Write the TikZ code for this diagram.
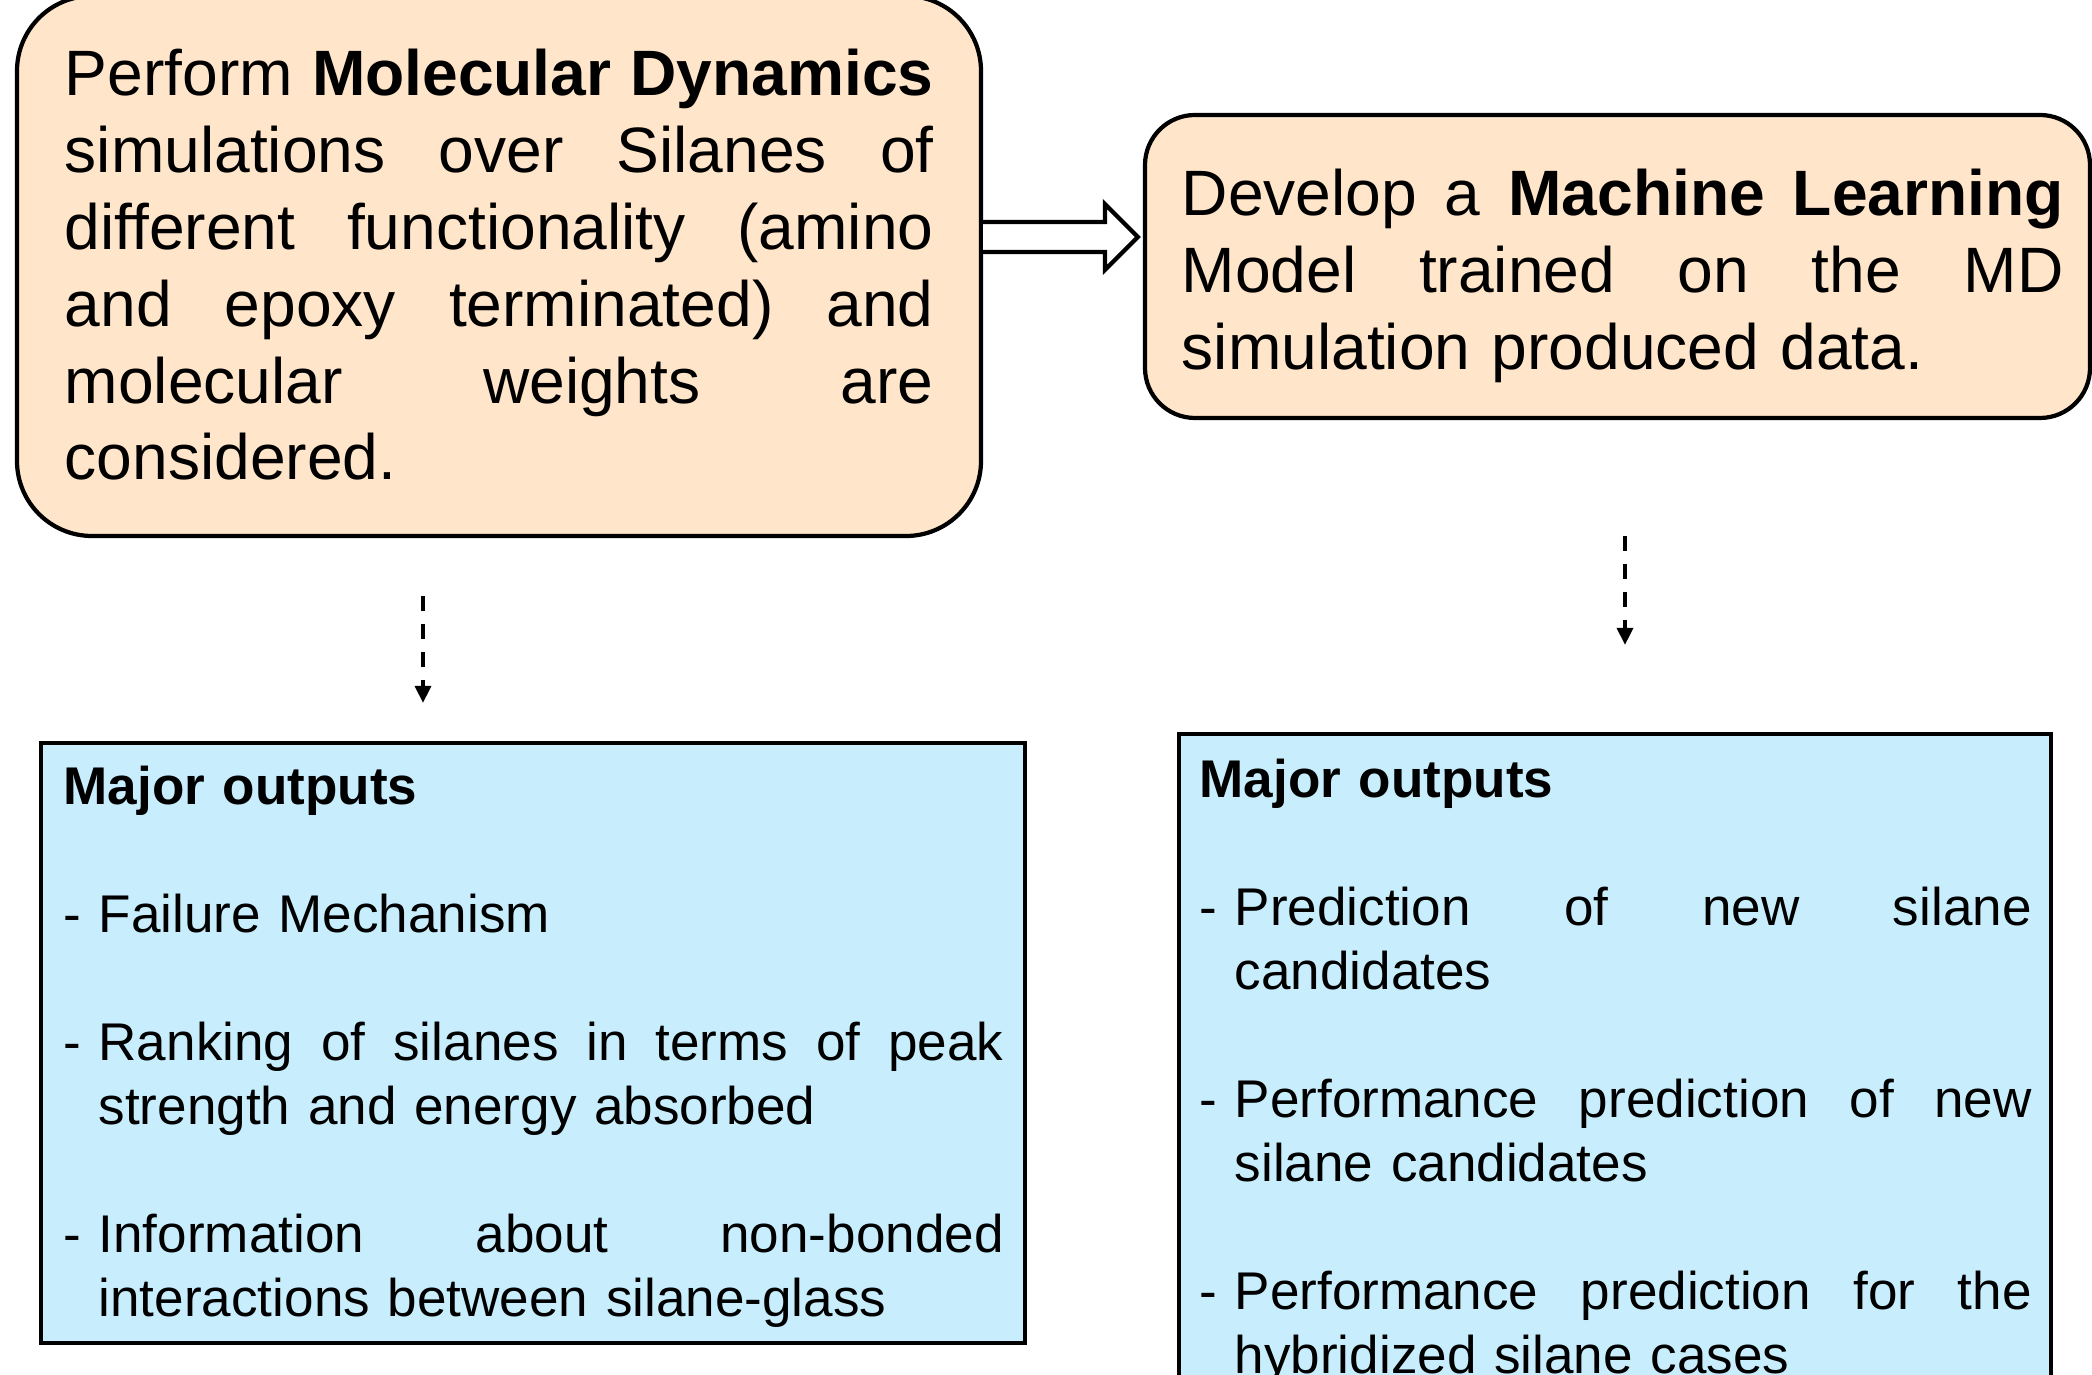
\documentclass[tikz,border=0pt]{standalone}
\usepackage{fontspec}
\setmainfont{Liberation Sans}
\usetikzlibrary{arrows.meta}
\usetikzlibrary{calc}
\definecolor{mdorange}{HTML}{FFE5CA}
\definecolor{outblue}{HTML}{C8EEFD}
\newcommand{\jline}[1]{\makebox[\linewidth][s]{\spaceskip=0.278em plus 1fil\xspaceskip=\spaceskip #1}}
\newcommand{\outdash}{\makebox[0.35cm][l]{-}}
\newcommand{\outfull}[1]{\outdash\makebox[\dimexpr\linewidth-0.35cm\relax][s]{\spaceskip=0.278em plus 1fil\xspaceskip=\spaceskip #1}}
\newcommand{\outcont}[1]{\hspace*{0.35cm}#1}
\tikzset{
	stagebox/.style={draw,line width=1.2pt,fill=mdorange,inner sep=0pt},
	outbox/.style={draw,line width=1.2pt,fill=outblue,inner sep=0pt},
	bigtext/.style={anchor=base west,inner sep=0pt,align=left,font=\fontsize{18.25pt}{21.85pt}\selectfont},
	smalltext/.style={anchor=base west,inner sep=0pt,align=left,font=\fontsize{15.1pt}{18.2pt}\selectfont},
	hollowarrow/.style={draw,line width=1.2pt,fill=white,line join=miter},
	dasharrow/.style={line width=0.95pt,dash pattern=on 0.15cm off 0.13cm,-{Triangle[length=1.7mm,width=1.6mm]}}
}
\begin{document}
\begin{tikzpicture}

	\useasboundingbox (0,0) rectangle (20.92,-13.75);
	\clip (0,0) rectangle (20.92,-13.75);

	\node[stagebox,rounded corners=0.75cm,minimum width=9.64cm,minimum height=5.40cm] (md) at (4.99,-2.66) {};
	\node[stagebox,rounded corners=0.5cm,minimum width=9.45cm,minimum height=3.03cm] (ml) at (16.175,-2.665) {};

	\node[outbox,minimum width=9.84cm,minimum height=6.00cm] (mdout) at (5.33,-10.43) {};
	\node[outbox,minimum width=8.72cm,minimum height=6.61cm] (mlout) at (16.15,-10.645) {};

	\node[bigtext,text width=8.69cm] (mdtext) at (0.64,-0.96) {%
		\jline{Perform \textbf{Molecular Dynamics}}\\
		\jline{simulations over Silanes of}\\
		\jline{different functionality (amino}\\
		\jline{and epoxy terminated) and}\\
		\jline{molecular weights are}\\
		considered.};

	\node[bigtext,text width=8.82cm] (mltext) at (11.81,-2.16) {%
		\jline{Develop a \textbf{Machine Learning}}\\
		\jline{Model trained on the MD}\\
		simulation produced data.};

	\node[smalltext,text width=9.40cm] (mdouttext) at (0.63,-8.05) {%
		\textbf{Major outputs}\\
		\mbox{}\\
		\outdash Failure Mechanism\\
		\mbox{}\\
		\outfull{Ranking of silanes in terms of peak}\\
		\outcont{strength and energy absorbed}\\
		\mbox{}\\
		\outfull{Information about non-bonded}\\
		\outcont{interactions between silane-glass}};

	\node[smalltext,text width=8.32cm] (mlouttext) at (11.99,-7.98) {%
		\textbf{Major outputs}\\
		\mbox{}\\
		\outfull{Prediction of new silane}\\
		\outcont{candidates}\\
		\mbox{}\\
		\outfull{Performance prediction of new}\\
		\outcont{silane candidates}\\
		\mbox{}\\
		\outfull{Performance prediction for the}\\
		\outcont{hybridized silane cases}};

	\coordinate (arrS) at (md.east |- 0,-2.37);
	\coordinate (arrT) at ([xshift=-0.05cm]ml.west |- arrS);
	\draw[hollowarrow] ($(arrS)+(0,0.15)$) -- ($(arrT)+(-0.33,0.15)$) -- ($(arrT)+(-0.33,0.33)$) -- (arrT)
		-- ($(arrT)+(-0.33,-0.33)$) -- ($(arrT)+(-0.33,-0.15)$) -- ($(arrS)+(0,-0.15)$);

	\coordinate (mdA) at ([yshift=-0.58cm]md.south -| 4.23,0);
	\coordinate (mdB) at ([yshift=0.38cm]mdout.north -| 4.23,0);
	\draw[dasharrow] (mdA) -- (mdB);

	\coordinate (mlA) at ([yshift=-1.16cm]ml.south -| 16.25,0);
	\coordinate (mlB) at ([yshift=0.87cm]mlout.north -| 16.25,0);
	\draw[dasharrow] (mlA) -- (mlB);

\end{tikzpicture}
\end{document}
